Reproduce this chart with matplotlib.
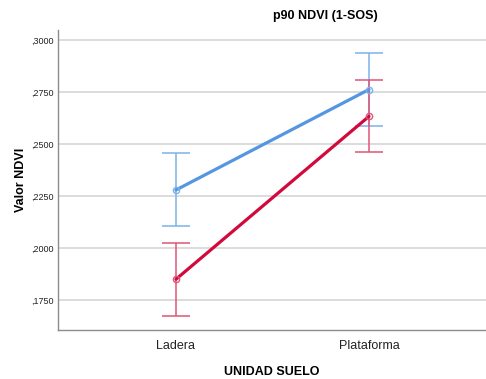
import matplotlib
matplotlib.use("Agg")
import matplotlib.pyplot as plt
from matplotlib.ticker import FuncFormatter

plt.rcParams['font.family'] = ['Liberation Sans', 'DejaVu Sans']

categories = ["Ladera", "Plataforma"]
blue_mean = [0.2279, 0.2762]
blue_low = [0.2104, 0.2587]
blue_high = [0.2455, 0.2939]
red_mean = [0.1850, 0.2633]
red_low = [0.1675, 0.2460]
red_high = [0.2024, 0.2810]
yticks = [0.1750, 0.2000, 0.2250, 0.2500, 0.2750, 0.3000]

fig = plt.figure(figsize=(4.86, 3.79), dpi=100)
ax = fig.add_axes([58 / 486, 49 / 379, 1 - 58 / 486, (330 - 30) / 379])

x = list(range(len(categories)))

series = [
    (blue_mean, blue_low, blue_high, "#5596E2", "#7DB1EC"),
    (red_mean, red_low, red_high, "#D20A3C", "#E05577"),
]
for mean, lo, hi, c_line, c_err in series:
    yerr = [[m - l for m, l in zip(mean, lo)], [h - m for m, h in zip(mean, hi)]]
    ax.errorbar(x, mean, yerr=yerr, fmt="none", ecolor=c_err, elinewidth=1.1,
                capsize=10, capthick=1.1, zorder=3)
    ax.plot(x, mean, color=c_line, lw=2.3, zorder=4, solid_capstyle="round")
    ax.plot(x, mean, "o", ms=4.5, mfc="none", mec=c_err, mew=1, zorder=5)

ax.set_xlim(-0.611, 1.606)
ax.set_ylim(0.1606, 0.3048)
ax.set_xticks(x)
ax.set_xticklabels(categories, fontsize=9, color="#222222")
ax.set_yticks(yticks)
ax.yaxis.set_major_formatter(FuncFormatter(lambda v, p: ("%.4f" % v)[1:].replace(".", ",")))
ax.tick_params(axis="y", length=0, labelsize=6.5, pad=3, labelcolor="#222222")
ax.tick_params(axis="x", length=0, pad=7)

ax.grid(axis="y", color="#D9D9D9", lw=1.3, zorder=0)
ax.set_axisbelow(True)
for s in ("top", "right"):
    ax.spines[s].set_visible(False)
for s in ("left", "bottom"):
    ax.spines[s].set_color("#8C8C8C")
    ax.spines[s].set_linewidth(1)

ax.set_ylabel("Valor NDVI", fontsize=9, fontweight="bold", labelpad=3)
ax.set_xlabel("UNIDAD SUELO", fontsize=9, fontweight="bold", labelpad=10)
fig.text(325 / 486, 1 - 16 / 379, "p90 NDVI (1-SOS)", ha="center", va="center",
         fontsize=9, fontweight="bold")

fig.savefig("out.png", dpi=100)
